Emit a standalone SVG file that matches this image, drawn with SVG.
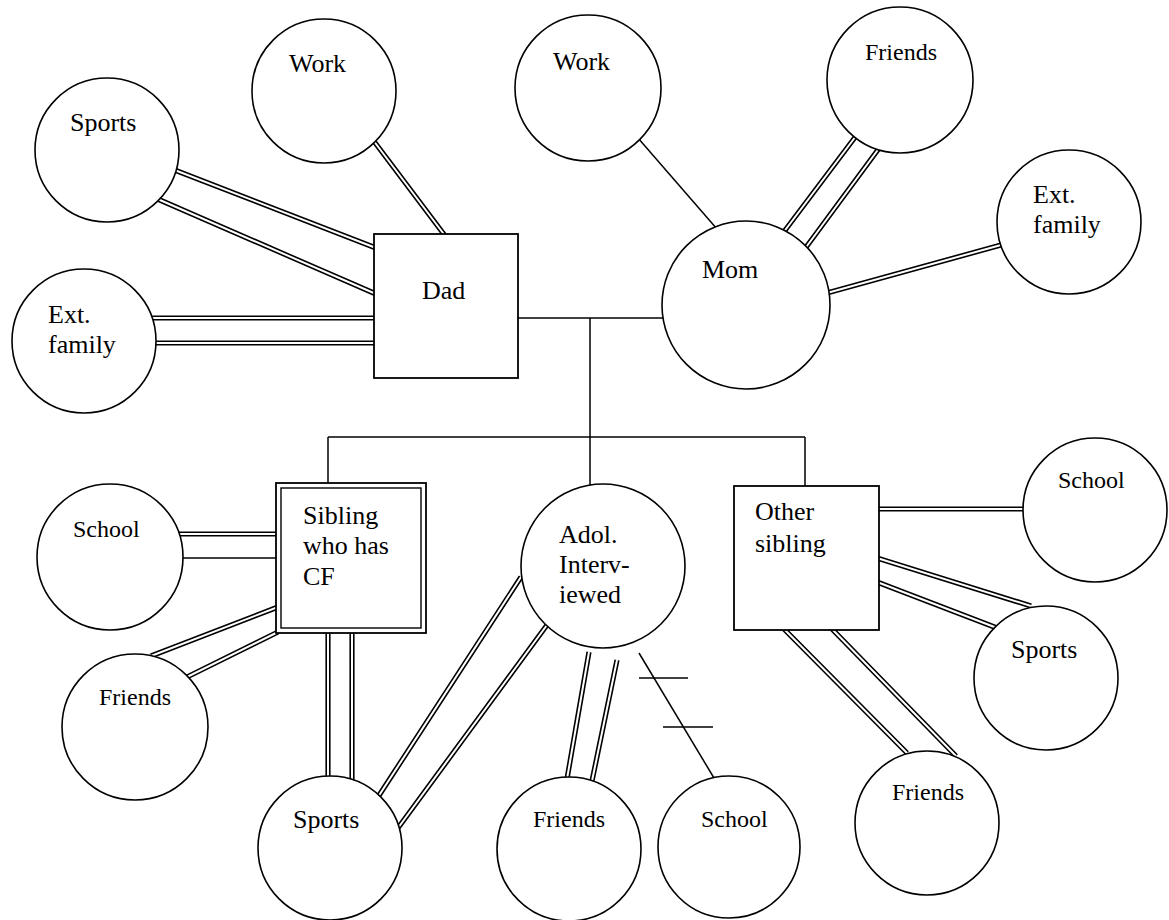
<svg xmlns="http://www.w3.org/2000/svg" width="1169" height="920" viewBox="0 0 1169 920">
<style>
.bg{fill:#fff}
.node{fill:#fff;stroke:#000;stroke-width:1.6}
.box{fill:#fff;stroke:#000;stroke-width:1.8}
.single{stroke:#000;stroke-width:1.5;fill:none}
.dblOuter{stroke:#000;stroke-width:5.2;fill:none}
.dblInner{stroke:#fff;stroke-width:2;fill:none}
.t{font-family:"Liberation Serif","Times New Roman",serif;font-size:26px;fill:#000}
.s{font-size:24px}
</style>
<defs>
<path id="dbl" d="
M370 136 L446 237
M172 169 L376 248
M153 197 L376 294
M150 318 L376 318
M152 343 L376 343
M856 136 L783 233
M880 147 L804 250
M827 293 L1001 245
M178 534 L278 534
M151 656 L278 607
M185 678 L278 632
M328 633 L328 779
M352 633 L352 781
M521 577 L378 797
M547 625 L398 828
M589 652 L567 779
M617 660 L592 781
M877 509 L1024 509
M877 558 L1031 606
M877 582 L997 628
M783 628 L907 753
M831 628 L956 756"/>
</defs>
<rect class="bg" x="0" y="0" width="1169" height="920"/>
<g id="connectors">
<use href="#dbl" class="dblOuter"/>
<use href="#dbl" class="dblInner"/>
<line class="single" x1="638" y1="138" x2="717" y2="229"/>
<line class="single" x1="518" y1="318" x2="664" y2="318"/>
<line class="single" x1="590" y1="318" x2="590" y2="486"/>
<line class="single" x1="328" y1="437" x2="805" y2="437"/>
<line class="single" x1="328" y1="437" x2="328" y2="483"/>
<line class="single" x1="805" y1="437" x2="805" y2="486"/>
<line class="single" x1="180" y1="558" x2="278" y2="558"/>
<line class="single" x1="639" y1="653" x2="714" y2="778"/>
<line class="single" x1="639" y1="678" x2="688" y2="678"/>
<line class="single" x1="663" y1="727" x2="713" y2="727"/>
</g>
<g id="dad-work"><circle class="node" cx="324" cy="91" r="72"/><text class="t" x="289" y="72">Work</text></g>
<g id="dad-sports"><circle class="node" cx="107" cy="150" r="72"/><text class="t" x="70" y="131">Sports</text></g>
<g id="dad-ext-family"><circle class="node" cx="84" cy="341" r="72"/><text class="t" x="48" y="323">Ext.</text><text class="t" x="48" y="353">family</text></g>
<g id="dad"><rect class="box" x="374" y="234" width="144" height="144"/><text class="t" x="422" y="299">Dad</text></g>
<g id="mom-work"><circle class="node" cx="588" cy="88" r="73"/><text class="t" x="553" y="70">Work</text></g>
<g id="mom"><circle class="node" cx="746" cy="305" r="84"/><text class="t" x="702" y="278">Mom</text></g>
<g id="mom-friends"><circle class="node" cx="900" cy="80" r="73"/><text class="t s" x="865" y="60">Friends</text></g>
<g id="mom-ext-family"><circle class="node" cx="1069" cy="222" r="72"/><text class="t" x="1033" y="203">Ext.</text><text class="t" x="1033" y="233">family</text></g>
<g id="sibling-cf"><rect class="box" x="276" y="483" width="150" height="150"/><rect class="box" x="281" y="488" width="140" height="140" style="stroke-width:1.4"/><text class="t" x="303" y="524">Sibling</text><text class="t" x="303" y="554">who has</text><text class="t" x="303" y="585">CF</text></g>
<g id="sib-school"><circle class="node" cx="110" cy="557" r="73"/><text class="t s" x="73" y="537">School</text></g>
<g id="sib-friends"><circle class="node" cx="135" cy="727" r="73"/><text class="t s" x="99" y="705">Friends</text></g>
<g id="sib-sports"><circle class="node" cx="330" cy="848" r="72"/><text class="t" x="293" y="828">Sports</text></g>
<g id="adol"><circle class="node" cx="603" cy="566" r="82"/><text class="t" x="559" y="543">Adol.</text><text class="t" x="559" y="573">Interv-</text><text class="t" x="559" y="603">iewed</text></g>
<g id="adol-friends"><circle class="node" cx="569" cy="849" r="72"/><text class="t s" x="533" y="827">Friends</text></g>
<g id="adol-school"><circle class="node" cx="729" cy="847" r="71"/><text class="t s" x="701" y="827">School</text></g>
<g id="other-sibling"><rect class="box" x="734" y="486" width="145" height="144"/><text class="t" x="755" y="520">Other</text><text class="t" x="755" y="552">sibling</text></g>
<g id="other-school"><circle class="node" cx="1095" cy="510" r="72"/><text class="t s" x="1058" y="488">School</text></g>
<g id="other-sports"><circle class="node" cx="1046" cy="678" r="72"/><text class="t" x="1011" y="658">Sports</text></g>
<g id="other-friends"><circle class="node" cx="927" cy="823" r="72"/><text class="t s" x="892" y="800">Friends</text></g>
</svg>
